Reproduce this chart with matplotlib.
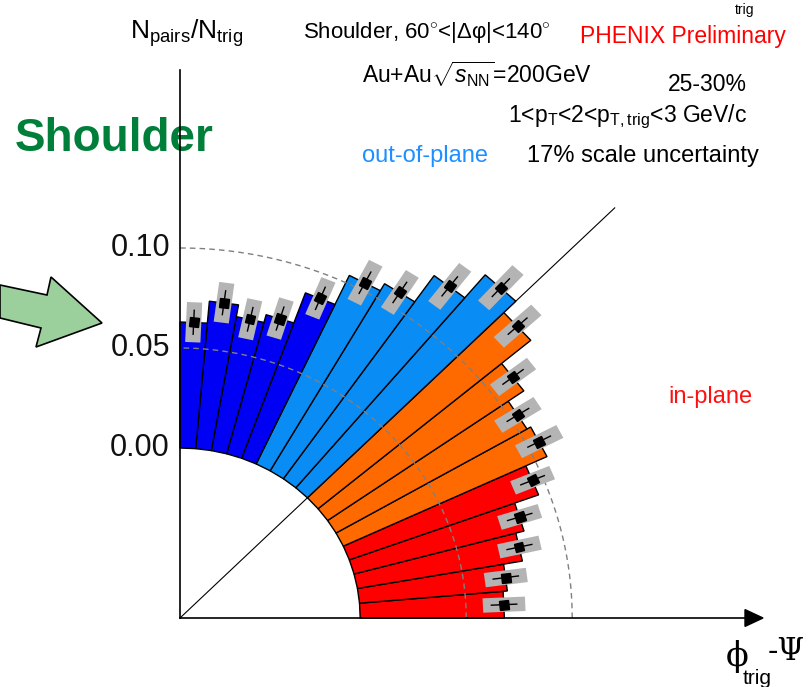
import numpy as np
import matplotlib
matplotlib.use("Agg")
import matplotlib.pyplot as plt
from matplotlib.patches import Polygon
from matplotlib.markers import MarkerStyle
from matplotlib.transforms import Affine2D

plt.rcParams['font.family'] = ['Liberation Sans', 'DejaVu Sans']
plt.rcParams['mathtext.fontset'] = 'custom'
plt.rcParams['mathtext.rm'] = 'Liberation Sans'
plt.rcParams['mathtext.it'] = 'Liberation Sans:italic'
plt.rcParams['mathtext.bf'] = 'Liberation Sans:bold'

# bins in phi_trig - Psi (degrees), 5 degree steps from in-plane to out-of-plane
bin_edges = np.arange(0, 91, 5)
# pair yield per trigger in each bin
yields = [0.068, 0.070, 0.079, 0.083, 0.095, 0.106, 0.104, 0.113, 0.131,
          0.139, 0.124, 0.108, 0.104, 0.088, 0.072, 0.068, 0.074, 0.063]
stat_err = [0.006] * 18
sys_err = [0.010, 0.010, 0.010, 0.010, 0.010, 0.011, 0.011, 0.011, 0.012,
           0.012, 0.012, 0.011, 0.011, 0.010, 0.010, 0.010, 0.010, 0.010]
bin_colors = (['#ff0000'] * 5 + ['#ff6a00'] * 4 +
              ['#0a8cf5'] * 4 + ['#0000f5'] * 5)
ring_values = [0.05, 0.10]
tick_labels = ['0.00', '0.05', '0.10']

r0 = 0.085  # radius of the zero line

fig = plt.figure(figsize=(8.11, 6.87), dpi=100)
ax = fig.add_axes([0, 0, 1, 1])
ax.set_xlim(-180 / 2120, 631 / 2120)
ax.set_ylim(-69 / 2000, 618 / 2000)
ax.axis('off')


def pix(x, y):
    # pixel position -> data position
    return (x - 180) / 2120, (618 - y) / 2000


def pol(r, a):
    a = np.radians(a)
    return r * np.cos(a), r * np.sin(a)


# wedges
for i in range(len(yields)):
    a0, a1 = bin_edges[i], bin_edges[i + 1]
    R = r0 + yields[i]
    pts = [pol(r0, a0), pol(R, a0), pol(R, a1), pol(r0, a1)]
    ax.add_patch(Polygon(pts, closed=True, facecolor=bin_colors[i],
                         edgecolor='black', lw=1.0, zorder=2))

# reference rings
th = np.linspace(0, 90, 200)
for v in ring_values:
    x, y = pol(r0 + v, th)
    ax.plot(x, y, color='#808080', lw=1.0, ls=(0, (4, 3)), zorder=3)

# systematic boxes, statistical errors and points
for i in range(len(yields)):
    c = 0.5 * (bin_edges[i] + bin_edges[i + 1])
    R = r0 + yields[i]
    u = np.array([np.cos(np.radians(c)), np.sin(np.radians(c))])
    n = np.array([-u[1], u[0]])
    hw = 0.0036
    s = sys_err[i]
    box = [R * u + (-s) * u + hw * n, R * u + s * u + hw * n,
           R * u + s * u - hw * n, R * u + (-s) * u - hw * n]
    ax.add_patch(Polygon(box, closed=True, facecolor='#b4b4b4',
                         edgecolor='none', zorder=4))
    e = stat_err[i]
    p1 = (R - e) * u
    p2 = (R + e) * u
    ax.plot([p1[0], p2[0]], [p1[1], p2[1]], color='black', lw=1.0, zorder=5)
    m = MarkerStyle('s', transform=Affine2D().rotate_deg(c))
    ax.plot(R * u[0], R * u[1], marker=m, ms=6.5, color='black', zorder=6)

# 45 degree guide
gx, gy = pol(0.29, 45)
ax.plot([0, gx], [0, gy], color='black', lw=0.8, zorder=1)

# axes
top = pix(180, 70)[1]
ax.plot([0, 0], [0, top], color='black', lw=1.2, zorder=7)
x_end = pix(745, 0)[0]
x_tip = pix(763, 0)[0]
ax.plot([0, x_end], [0, 0], color='black', lw=1.2, zorder=7)
ax.add_patch(Polygon([(x_end, 0.0042), (x_tip, 0), (x_end, -0.0042)],
                     closed=True, color='black', zorder=7, clip_on=False))

for v, lab in zip([0.0] + ring_values, tick_labels):
    ax.text(pix(170, 0)[0], r0 + v, lab, fontsize=22, ha='right',
            va='center', color='#111111')

# big arrow on the left
arrow = [pix(0, 285), pix(47, 295), pix(51, 277), pix(102, 323),
         pix(36, 347), pix(41, 328), pix(0, 318)]
ax.add_patch(Polygon(arrow, closed=True, facecolor='#9bcf9b',
                     edgecolor='black', lw=1.2, clip_on=False, zorder=8))


def label(x, y, s, **kw):
    px, py = pix(x, y)
    kw.setdefault('fontsize', 17)
    kw.setdefault('va', 'baseline')
    ax.text(px, py, s, **kw)


label(130, 39, r'N$_{\rm pairs}$/N$_{\rm trig}$', fontsize=19)
label(303, 38, r'Shoulder, 60$^{\circ}$<|Δφ|<140$^{\circ}$', fontsize=16)
label(580, 43, 'PHENIX Preliminary', color='#ff0000', fontsize=16.5)
label(362, 83, r'Au+Au$\sqrt{s_{\rm NN}}$=200GeV', fontsize=16.5)
label(668, 91, '25-30%', fontsize=16.5)
label(508, 122, r'1<p$_{\rm T}$<2<p$_{\rm T,trig}$<3 GeV/c', fontsize=16.5)
label(362, 162, 'out-of-plane', color='#1e8fff', fontsize=17)
label(527, 162, '17% scale uncertainty', fontsize=17)
label(668, 403, 'in-plane', color='#ff1010', fontsize=17)
label(15, 151, 'Shoulder', color='#007f3a', fontsize=33, fontweight='bold')

label(726, 666, 'ϕ', fontsize=24, family='DejaVu Serif')
label(743, 684, 'trig', fontsize=15)
label(768, 660, '-Ψ', fontsize=22, family='DejaVu Serif')
label(735, 14, 'trig', fontsize=10)

fig.savefig('out.png', dpi=100)
